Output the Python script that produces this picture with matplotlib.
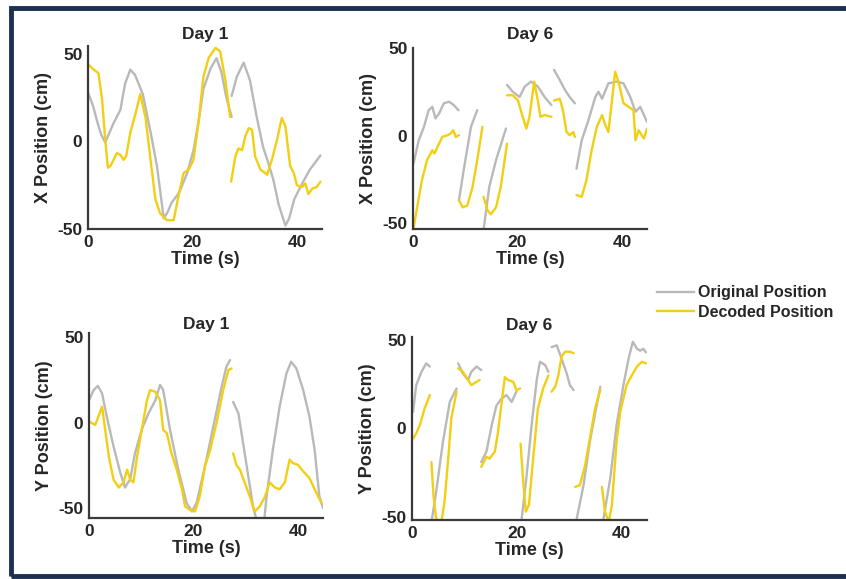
import matplotlib
matplotlib.use('Agg')
import matplotlib.pyplot as plt
from matplotlib.patches import Rectangle

# Данные: каждая серия разбита на непрерывные отрезки (время, позиция)

# Day 1, X
d1x_orig_t = [[0, 1, 1.7, 2.5, 3.3, 4.9, 6.2, 7.1, 8.1, 9, 10.5, 12, 13.2, 14.5, 15.3, 16, 17.5, 19, 20.2, 21.2, 22.1, 23.5, 24.6, 25.5, 26.5, 27.5],
              [27.5, 28.5, 29.8, 31, 32.3, 33.5, 34.5, 35.5, 36.5, 37.8, 38.5, 39.5, 41, 42.5, 44.5]]
d1x_orig_p = [[28, 20, 12, 4, -0.5, 10.5, 18, 33, 41, 38, 27, 5, -14, -44, -40, -35, -29, -18, -5, 12, 30, 42, 47.5, 40, 25, 14],
              [26, 37, 45, 35, 14, -3, -12, -22, -36, -48, -44, -33, -24, -16, -8]]
d1x_dec_t = [[0, 1.1, 2, 2.7, 3.3, 3.8, 4.3, 4.9, 5.5, 6.2, 6.8, 7.3, 8.1, 9.1, 10, 11, 11.9, 12.9, 13.8, 15.1, 16.4, 17.4, 18.3, 19.3, 20.2, 21.2, 22.1, 23.1, 24.4, 25.3, 26.3, 27.2],
             [27.4, 28.2, 28.8, 29.5, 30.1, 30.8, 31.4, 32, 33, 34.3, 35.2, 36.2, 37.1, 37.8, 38.7, 39.4, 40, 41, 41.6, 42.2, 42.9, 43.8, 44.5]]
d1x_dec_p = [[44, 41, 39, 24, 1, -15, -14, -10.5, -6.7, -7.6, -10.5, -8.6, 5, 16, 27, 14, -8.6, -33, -41, -45, -45, -30, -18, -16, -10.5, 12, 37, 47.7, 53.4, 51.5, 35, 14],
             [-23, -8.6, -4, -5, 3, 7.6, 6.7, -8.6, -16, -19, -10.5, 1, 13.4, 8.6, -14, -18, -25, -26, -24, -30, -27, -26, -23]]

# Day 6, X
d6x_orig_t = [[0.1, 1.1, 2.1, 3, 3.7, 4.3, 5, 5.9, 6.9, 7.8, 8.7],
              [8.8, 9.8, 11.1, 12.3],
              [13.5, 14.6, 15.9, 17.2, 17.8],
              [18, 19.1, 20.4, 21.4, 22.6, 23.9, 25.2, 26.5],
              [27, 28.1, 29.1, 30, 31],
              [31.3, 32.3, 33.6, 34.9, 35.5, 36.2, 37.4, 39, 40.3, 41.6, 42.6, 43.5, 44.8]]
d6x_orig_p = [[-16, -2.7, 5, 14.5, 16.4, 9.8, 12.6, 18.4, 19.3, 17.4, 14.5],
              [-37, -18, 5, 14.5],
              [-54, -29.4, -14, -1.7, 4],
              [28.9, 25, 22, 28, 30.8, 28, 22, 17.4],
              [37.5, 31.7, 26, 22, 18.4],
              [-19, -2.7, 8.8, 22, 25, 21, 29.8, 30.8, 29.8, 22, 13.6, 16.4, 7.8]]
d6x_dec_t = [[0.1, 0.8, 1.7, 2.7, 3.7, 4.1, 5, 5.6, 6.6, 7.2, 7.7, 8.2, 8.8],
             [8.8, 9.5, 10.4, 11.4, 12.3, 13.3],
             [13.5, 14.3, 14.9, 15.9, 16.8, 18],
             [18, 19.1, 20.1, 21, 21.7, 22.3, 23.2, 23.9, 24.4, 25.2, 26.5],
             [27, 28.1, 28.7, 29.4, 30, 30.7, 31],
             [31.3, 32.3, 33.2, 34.2, 35.2, 36.2, 36.8, 37.4, 38.1, 38.7, 39.4, 40.3, 41.3, 42.2, 42.6, 43.2, 44.2, 44.8]]
d6x_dec_p = [[-53, -41, -25.6, -14, -8.4, -10.3, -4.6, -0.8, 0.2, 1.1, 3, -0.8, 0.2],
             [-37, -41, -40, -29.4, -14, 5],
             [-35, -43, -45, -41, -29.4, -4.6],
             [23, 23, 20, 10.7, 4, 10.7, 30.8, 20, 10.7, 11.7, 10.7],
             [20, 21, 14.5, 2, 0.2, 2, -0.8],
             [-34, -35, -25.6, -8.4, 5, 11.7, 6, 2, 20, 36.5, 30, 18.4, 16.4, 14.5, -2.7, 3, -1.7, 4]]

# Day 1, Y
d1y_orig_t = [[0, 0.9, 1.7, 2.5, 3.4, 4.7, 6, 6.9, 7.9, 8.8, 10.1, 11.4, 12.7, 13.6, 14.2, 15.5, 17.1, 18.7, 19.7, 20.6, 22.2, 23.8, 25.4, 26.3, 27],
              [27.6, 28.6, 29.5, 30.5, 31.4, 32.5, 33.4, 34, 35.2, 36.5, 37.8, 38.7, 39.7, 41, 42.2, 43.2, 44.1, 44.8]]
d1y_orig_p = [[13, 19, 21.4, 17, 3.5, -14, -29.5, -38, -33, -18, -4, 5.4, 13, 22, 19, -4, -27.6, -47, -52, -47, -25.6, -2.3, 21, 32.6, 36.5],
              [12, 5.4, -12, -31.5, -49, -62, -62, -43, -16, 9.3, 28.7, 35.5, 31.7, 19, 3.5, -16, -43, -50]]
d1y_dec_t = [[0, 0.6, 1.2, 1.8, 2.5, 3.1, 3.8, 4.7, 5.7, 6.6, 7.3, 7.9, 8.5, 9.2, 10.1, 11.1, 11.7, 12.7, 13.6, 14.2, 14.9, 15.8, 16.8, 17.8, 18.4, 19.3, 20.3, 21.2, 22.2, 23.2, 24.4, 25.7, 26.7, 27.3],
             [27.6, 28.2, 28.9, 29.8, 30.8, 31.7, 32.7, 33.7, 34.6, 35.6, 36.5, 37.5, 38.4, 39, 40, 41, 42.2, 43.2, 44.5]]
d1y_dec_p = [[0.6, -0.4, -1.4, 3.5, 9.3, -4.3, -20, -33.4, -38, -35, -27.6, -33.4, -35, -20, -4.3, 13, 19, 18, 13, -4.3, -6.2, -18, -27.6, -39, -49, -51, -52, -43.3, -25.6, -16, -0.4, 19, 30.7, 31.6],
             [-18, -24.7, -27.6, -35, -43.3, -52, -49, -43.3, -35, -38, -39, -35, -21.7, -23.7, -24.7, -28.5, -32.4, -39, -47]]

# Day 6, Y
d6y_orig_t = [[0.2, 0.8, 1.8, 2.7, 3.4],
              [3.7, 4.6, 5.9, 7.2, 8.5],
              [8.8, 9.7, 10.7, 11.3, 12.3, 13.2],
              [13.2, 14.2, 15.2, 16.1, 17.1, 18, 19, 19.9],
              [20.9, 21.8, 22.8, 23.8, 24.4, 25.4, 26],
              [26.6, 27.6, 28.5, 29.5, 30.1, 30.8],
              [31.4, 32.7, 33.9, 35.2, 35.9],
              [36.5, 37.8, 39, 40.3, 41.3, 42.1, 42.9, 43.5, 44.1, 44.6]]
d6y_orig_p = [[9.4, 24.5, 32, 36.8, 35],
              [-53, -36, -7.5, 15, 22.6],
              [36.8, 31, 27.4, 32, 35, 33],
              [-19, -13, 1.9, 13, 17, 18.9, 15, 20.8],
              [-51, -28, 1.9, 28, 37.7, 35.8, 32],
              [46, 47, 39.6, 31, 24.5, 21.7],
              [-51, -32, -7.5, 13, 23.6],
              [-51, -28, 1.9, 24.5, 39.6, 49, 45, 44, 45, 43]]
d6y_dec_t = [[0.2, 0.8, 1.5, 2.4, 3.4],
             [3.7, 4.1, 4.6, 5.6, 6.2, 6.9, 7.5, 8.5],
             [8.8, 9.7, 10.7, 11.3, 12.3, 12.9],
             [13.2, 14.2, 14.8, 15.8, 16.4, 17.1, 17.7, 18.3, 19.3, 19.9, 20.6],
             [20.7, 21.2, 21.7, 22.3, 23.1, 24, 25, 26],
             [26.6, 27.3, 27.9, 28.5, 29.2, 30.1, 30.8],
             [31.1, 32, 33, 33.9, 34.9, 35.9],
             [36.2, 36.8, 37.5, 38.1, 39, 39.7, 40.9, 41.9, 42.9, 43.8, 44.6]]
d6y_dec_p = [[-5.7, -2.8, 1.9, 11.3, 18.9],
             [-19, -38, -51, -53, -41.5, -17, 5.7, 20.8],
             [34, 32, 27.4, 24.5, 26.4, 27.4],
             [-21.7, -16, -17, -13, -1.9, 15, 29, 27.4, 26.4, 21.7, 22.6],
             [-8.5, -30, -47, -43, -17, 11.3, 22.6, 30],
             [20.8, 23.6, 30, 40.6, 43.4, 43.4, 42.5],
             [-33, -32, -20.8, -5.7, 11.3, 21.7],
             [-33, -47, -53, -43.4, -7.5, 9.4, 24.5, 30, 35, 37.7, 36.8]]

x_ticks = [0, 20, 40]
y_ticks = [-50, 0, 50]

GRAY = '#b9b9b9'
GOLD = '#f2cf12'
INK = '#262626'

plt.rcParams['font.family'] = ['Liberation Sans', 'DejaVu Sans']
plt.rcParams['font.weight'] = 'bold'
plt.rcParams['axes.unicode_minus'] = False  # на оригинале обычный дефис "-50"

W, H = 846, 579
fig = plt.figure(figsize=(W / 100, H / 100), dpi=100)


def px_axes(left, top, right, bottom):
    # положение осей в пикселях -> доли фигуры
    return fig.add_axes([left / W, 1 - bottom / H, (right - left) / W, (bottom - top) / H])


panels = [
    # (границы в пикселях, ylim, заголовок, отступ заголовка, подпись оси Y, данные)
    ((88, 46, 322, 229), (-50, 54.5), 'Day 1', 5, 'X Position (cm)',
     d1x_orig_t, d1x_orig_p, d1x_dec_t, d1x_dec_p),
    ((413, 48, 647, 229), (-53.4, 50), 'Day 6', 6.5, 'X Position (cm)',
     d6x_orig_t, d6x_orig_p, d6x_dec_t, d6x_dec_p),
    ((89, 333, 323, 518), (-55.8, 52.3), 'Day 1', 3, 'Y Position (cm)',
     d1y_orig_t, d1y_orig_p, d1y_dec_t, d1y_dec_p),
    ((412, 337, 647, 520), (-51.7, 51.7), 'Day 6', 5, 'Y Position (cm)',
     d6y_orig_t, d6y_orig_p, d6y_dec_t, d6y_dec_p),
]

for box, ylim, title, tpad, ylabel, ot, op, dt, dp in panels:
    ax = px_axes(*box)
    for t, p in zip(ot, op):
        ax.plot(t, p, color=GRAY, lw=1.7, solid_capstyle='round', solid_joinstyle='round')
    for t, p in zip(dt, dp):
        ax.plot(t, p, color=GOLD, lw=1.7, solid_capstyle='round', solid_joinstyle='round')
    ax.set_xlim(0, 44.8)
    ax.set_ylim(*ylim)
    ax.set_xticks(x_ticks)
    ax.set_yticks(y_ticks)
    ax.tick_params(length=0, labelsize=12.5, colors=INK, pad=4)
    for s in ['top', 'right']:
        ax.spines[s].set_visible(False)
    for s in ['left', 'bottom']:
        ax.spines[s].set_color('#3a3a3a')
        ax.spines[s].set_linewidth(1.6)
    ax.set_title(title, fontsize=12.5, fontweight='bold', color=INK, pad=tpad)
    ax.set_xlabel('Time (s)', fontsize=13, fontweight='bold', color=INK, labelpad=1)
    ax.set_ylabel(ylabel, fontsize=13, fontweight='bold', color=INK, labelpad=4)

# легенда справа
h1, = plt.plot([], [], color=GRAY, lw=1.7)
h2, = plt.plot([], [], color=GOLD, lw=1.7)
fig.legend([h1, h2], ['Original Position', 'Decoded Position'],
           loc='center left', bbox_to_anchor=(657 / W, 1 - 302.5 / H),
           frameon=False, fontsize=11.5, handlelength=2.3, handletextpad=0.25,
           labelspacing=0.3, borderpad=0, borderaxespad=0, labelcolor=INK)

# тёмно-синяя рамка
fig.patches.append(Rectangle((11 / W, 3 / H), 838 / W, 568 / H, transform=fig.transFigure,
                             fill=False, edgecolor='#1d3052', linewidth=3.5))

fig.savefig('out.png', dpi=100)
